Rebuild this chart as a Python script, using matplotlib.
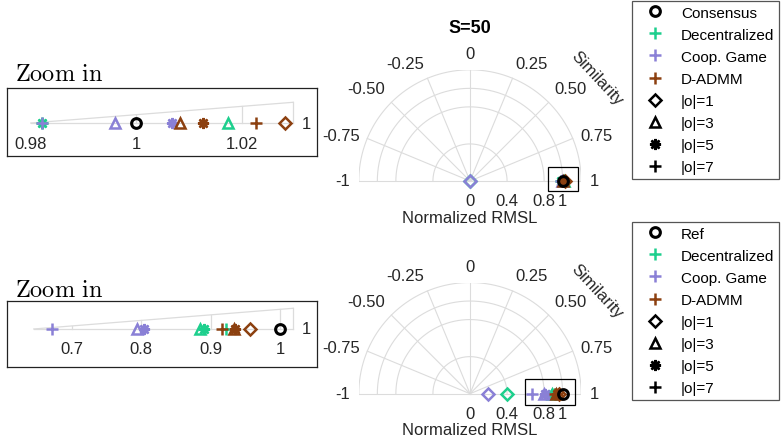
import numpy as np
import matplotlib
matplotlib.use("Agg")
import matplotlib.pyplot as plt
from matplotlib.lines import Line2D
from matplotlib.patches import Rectangle

plt.rcParams["font.family"] = ["Liberation Sans", "DejaVu Sans"]
plt.rcParams["mathtext.fontset"] = "cm"

# Data: normalized RMSL per method, one value per |o| = 1, 3, 5, 7
ORDER_LABELS = ["|o|=1", "|o|=3", "|o|=5", "|o|=7"]
METHOD_LABELS = ["Decentralized", "Coop. Game", "D-ADMM"]

# S=50 panel
top_ref_r = [1.0]
top_ref_s = [1.0]
top_dec_r = [0.0, 1.0174, 0.9821, 0.9821]
top_coop_r = [0.0, 0.9959, 1.0068, 0.9821]
top_admm_r = [1.0283, 1.0083, 1.0127, 1.0228]
top_sim = [1.0, 1.0, 1.0, 1.0]

# second panel
bot_ref_r = [1.0]
bot_ref_s = [1.0]
bot_dec_r = [0.40, 0.885, 0.890, 0.922]
bot_coop_r = [0.195, 0.7938, 0.8043, 0.6715]
bot_admm_r = [0.957, 0.933, 0.935, 0.916]
bot_sim = [1.0, 1.0, 1.0, 1.0]

# Axis ticks
SIM_TICKS = [1, 0.75, 0.5, 0.25, 0, -0.25, -0.5, -0.75, -1]
SIM_TICKLABELS = ["1", "0.75", "0.50", "0.25", "0", "-0.25", "-0.50", "-0.75", "-1"]
R_GRID = [0.4, 0.8, 1.0, 1.2]
R_TICKS = [0, 0.4, 0.8, 1]
R_TICKLABELS = ["0", "0.4", "0.8", "1"]

TOP_ZOOM_TICKS = [0.98, 1.0, 1.02]
TOP_ZOOM_TICKLABELS = ["0.98", "1", "1.02"]
BOT_ZOOM_TICKS = [0.7, 0.8, 0.9, 1.0]
BOT_ZOOM_TICKLABELS = ["0.7", "0.8", "0.9", "1"]

# Styles
GRID = "#dcdcdc"
TXT = "#262626"
C_REF = "black"
C_DEC = "#1dcf8d"
C_COOP = "#8a80d6"
C_ADMM = "#8c4010"
MARKERS = ["D", "^", (8, 2, 0), "+"]
MSIZE = {"D": 6.2, "^": 7.5, "+": 9}
MEW = 1.8
TICK_FS = 12
LABEL_FS = 12

W, H = 783, 439


def px_box(left, top, right, bottom):
    # figure-fraction rectangle from pixel edges
    return [left / W, 1 - bottom / H, (right - left) / W, (bottom - top) / H]


def to_xy(r, s):
    th = np.pi / 2 * (1 - np.asarray(s, dtype=float))
    r = np.asarray(r, dtype=float)
    return r * np.cos(th), r * np.sin(th)


def marker_kw(m, color):
    return dict(marker=m, linestyle="none", markersize=MSIZE.get(m, 8),
                markeredgewidth=MEW, markeredgecolor=color,
                markerfacecolor="none" if m in ("D", "^", "o") else color)


def plot_points(ax, ref_r, ref_s, series, sim, polar=True):
    groups = [(series[0], C_DEC), (series[1], C_COOP), (series[2], C_ADMM)]
    for rs, color in groups:
        for r, s, m in zip(rs, sim, MARKERS):
            if polar:
                x, y = to_xy([r], [s])
            else:
                x, y = [r], [0.0]
            ax.plot(x, y, clip_on=not polar, zorder=4, **marker_kw(m, color))
    if polar:
        x, y = to_xy(ref_r, ref_s)
    else:
        x, y = ref_r, [0.0] * len(ref_r)
    ax.plot(x, y, marker="o", linestyle="none", markersize=7, markeredgewidth=2.2,
            markeredgecolor=C_REF, markerfacecolor="none", clip_on=not polar, zorder=5)


def draw_main(ax, ref_r, ref_s, series, sim, zoom_rect, title=None):
    ax.set_xlim(-1.2, 1.2)
    ax.set_ylim(-0.15, 1.2)
    ax.set_aspect("equal")
    ax.axis("off")

    phi = np.linspace(0, np.pi, 300)
    for rg in R_GRID:
        ax.plot(rg * np.cos(phi), rg * np.sin(phi), color=GRID, lw=0.8, zorder=1)
    for s, lab in zip(SIM_TICKS, SIM_TICKLABELS):
        x, y = to_xy([0, 1.2], [s, s])
        ax.plot(x, y, color=GRID, lw=0.8, zorder=1)
        lx, ly = to_xy(1.29, s)
        ha = "left" if lx > 0.01 else ("right" if lx < -0.01 else "center")
        va = "bottom" if ly > 0.6 else "center"
        ax.text(lx, ly, lab, ha=ha, va=va, fontsize=TICK_FS, color=TXT)

    for t, lab in zip(R_TICKS, R_TICKLABELS):
        ax.annotate(lab, (t, 0), xytext=(0, -9), textcoords="offset points",
                    ha="center", va="top", fontsize=TICK_FS, color=TXT)
    ax.annotate("Normalized RMSL", (0, 0), xytext=(0, -26), textcoords="offset points",
                ha="center", va="center", fontsize=LABEL_FS, color=TXT)
    ax.text(1.37, 1.11, "Similarity", rotation=-47, ha="center", va="center",
            fontsize=LABEL_FS, color=TXT, rotation_mode="anchor")
    if title:
        ax.text(0, 1.66, title, ha="center", va="center", fontsize=13,
                fontweight="bold")

    x0, x1, y0, y1 = zoom_rect
    ax.add_patch(Rectangle((x0, y0), x1 - x0, y1 - y0, fill=False, lw=0.9,
                           edgecolor="black", zorder=6, clip_on=False))
    plot_points(ax, ref_r, ref_s, series, sim, polar=True)


def draw_inset(ax, ref_r, series, sim, rmin, rmax, rgrid, ticks, ticklabels,
               xlim, base_frac, rise_frac):
    ax.set_xlim(*xlim)
    ax.set_ylim(-base_frac, 1 - base_frac)
    ax.set_xticks([])
    ax.set_yticks([])
    for sp in ax.spines.values():
        sp.set_linewidth(0.9)
        sp.set_color("#222222")

    slope = rise_frac / (rmax - rmin)
    ax.plot([rmin, rmax], [0, 0], color=GRID, lw=0.9, zorder=1)
    ax.plot([rmin, rmax], [0, rise_frac], color=GRID, lw=0.9, zorder=1)
    for rg in list(rgrid) + [rmax]:
        ax.plot([rg, rg], [0, slope * (rg - rmin)], color=GRID, lw=0.9, zorder=1)

    for t, lab in zip(ticks, ticklabels):
        ax.annotate(lab, (t, 0), xytext=(0, -9), textcoords="offset points",
                    ha="center", va="top", fontsize=TICK_FS, color=TXT)
    ax.annotate("1", (rmax, 0), xytext=(6, 0), textcoords="offset points",
                ha="left", va="center", fontsize=TICK_FS, color=TXT)
    plot_points(ax, ref_r, [1.0], series, sim, polar=False)


def add_legend(fig, first_label, top_px):
    handles = [Line2D([], [], marker="o", linestyle="none", markersize=7,
                      markeredgewidth=2.2, markeredgecolor=C_REF, markerfacecolor="none")]
    for c in (C_DEC, C_COOP, C_ADMM):
        handles.append(Line2D([], [], **marker_kw("+", c)))
    for m in MARKERS:
        handles.append(Line2D([], [], **marker_kw(m, "black")))
    labels = [first_label] + METHOD_LABELS + ORDER_LABELS
    leg = fig.legend(handles, labels, loc="upper left",
                     bbox_to_anchor=(632 / W, 1 - top_px / H),
                     bbox_transform=fig.transFigure, borderaxespad=0,
                     fontsize=11, frameon=True, fancybox=False, framealpha=1,
                     handlelength=2.4, handletextpad=0.5, labelspacing=0.53,
                     borderpad=0.3)
    leg.get_frame().set_edgecolor("#555555")
    leg.get_frame().set_linewidth(0.9)


fig = plt.figure(figsize=(W / 100, H / 100), dpi=100)

# main semicircle panels
ax_top = fig.add_axes(px_box(470 - 111.2, 182 - 111.2, 470 + 111.2, 182 + 13.9))
draw_main(ax_top, top_ref_r, top_ref_s, [top_dec_r, top_coop_r, top_admm_r], top_sim,
          (0.84, 1.165, -0.11, 0.15), title="S=50")
ax_bot = fig.add_axes(px_box(470 - 111.2, 394.7 - 111.2, 470 + 111.2, 394.7 + 13.9))
draw_main(ax_bot, bot_ref_r, bot_ref_s, [bot_dec_r, bot_coop_r, bot_admm_r], bot_sim,
          (0.593, 1.13, -0.12, 0.16))

# zoomed insets
ax_zt = fig.add_axes(px_box(7, 89, 317, 157))
draw_inset(ax_zt, top_ref_r, [top_dec_r, top_coop_r, top_admm_r], top_sim,
           0.9800, 1.0298, [1.0, 1.02], TOP_ZOOM_TICKS, TOP_ZOOM_TICKLABELS,
           (0.9755, 1.0343), 0.485, 0.305)
ax_zb = fig.add_axes(px_box(7, 302, 317, 368))
draw_inset(ax_zb, bot_ref_r, [bot_dec_r, bot_coop_r, bot_admm_r], bot_sim,
           0.6455, 1.019, [0.7, 0.8, 0.9, 1.0], BOT_ZOOM_TICKS, BOT_ZOOM_TICKLABELS,
           (0.607, 1.053), 0.576, 0.314)

for y_base in (81, 297):
    fig.text(15 / W, 1 - y_base / H, r"$\mathrm{Zoom\ in}$", fontsize=17.5,
             va="baseline", ha="left")

add_legend(fig, "Consensus", 2)
add_legend(fig, "Ref", 223)

fig.savefig("out.png", dpi=100)
